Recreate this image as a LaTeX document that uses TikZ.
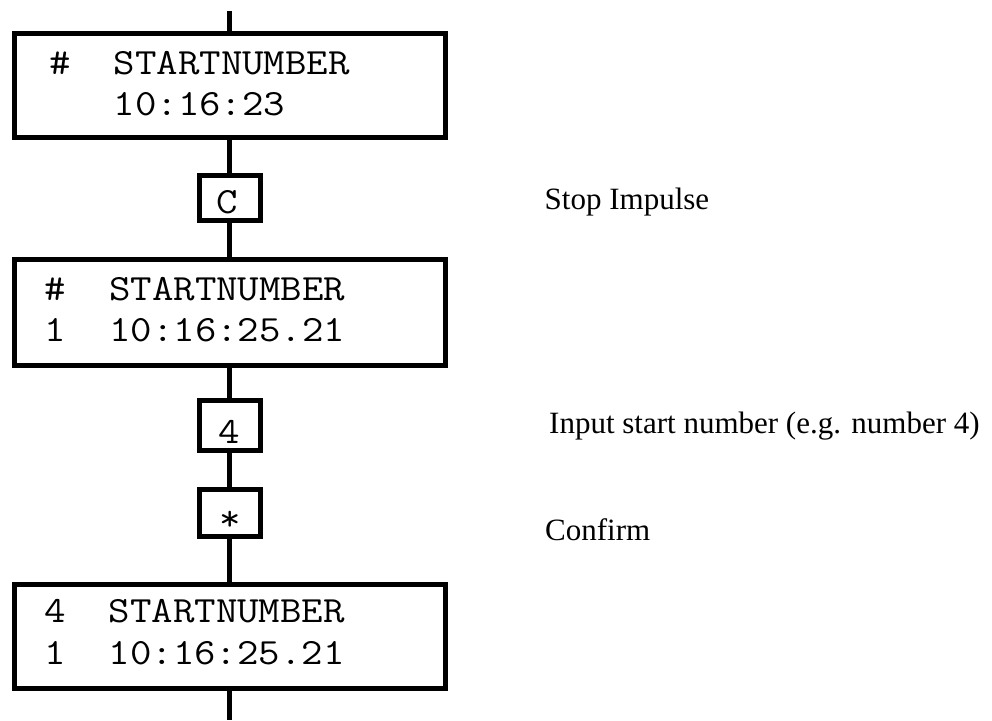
\documentclass[tikz,border=0pt]{standalone}
\usepackage{fontspec}
\setmainfont{Liberation Serif}
% typewriter lettering of the display, widened to a Courier-like pitch
\newcommand\lcdfont{\fontsize{37}{44}\selectfont\ttfamily}
\newcommand\lcdrow[1]{\scalebox{1.127}[1]{#1}}
\begin{document}
\begin{tikzpicture}[x=1pt,y=-1pt,
  wire/.style={line width=5pt},
  display/.style={draw, line width=5pt, minimum width=431pt, inner sep=0pt},
  keybox/.style={draw, line width=5pt, minimum width=61pt, inner sep=0pt},
  lcd/.style={anchor=base west, inner sep=0pt, font=\lcdfont},
  keyglyph/.style={anchor=base, inner sep=0pt, font=\lcdfont},
  note/.style={anchor=base west, inner sep=0pt, font=\fontsize{31}{37}\selectfont}]
\useasboundingbox (0,0) rectangle (992,720);

% display states
\node[display, minimum height=104pt] (d1) at (229.5,85.5) {};
\node[display, minimum height=106pt] (d2) at (229.5,312.5) {};
\node[display, minimum height=104pt] (d3) at (229.5,636.5) {};

% key presses
\node[keybox, minimum height=45pt] (kC) at (229.5,197.5) {};
\node[keybox, minimum height=50pt] (k4) at (229.5,425) {};
\node[keybox, minimum height=47pt] (kS) at (229.5,512.5) {};

% display contents
\node[lcd] (d1a) at (49,74)  {\lcdrow{\#\ \ STARTNUMBER}};
\node[lcd] (d1b) at (49,115) {\lcdrow{\ \ \ 10:16:23}};
\node[lcd] (d2a) at (44.5,300) {\lcdrow{\#\ \ STARTNUMBER}};
\node[lcd] (d2b) at (44.5,341) {\lcdrow{1\ \ 10:16:25.21}};
\node[lcd] (d3a) at (44,622) {\lcdrow{4\ \ STARTNUMBER}};
\node[lcd] (d3b) at (44,664) {\lcdrow{1\ \ 10:16:25.21}};

% key glyphs
\node[keyglyph] (tC) at (227,213) {\lcdrow{C}};
\node[keyglyph] (t4) at (229.5,443) {\lcdrow{4}};
\node[keyglyph, anchor=center] (tS) at (230,521) {\lcdrow{*}};

% flow line
\coordinate (top) at (229.5,11);
\coordinate (bottom) at (229.5,720);
\draw[wire] (top) -- (d1.north);
\draw[wire] (d1.south) -- (kC.north);
\draw[wire] (kC.south) -- (d2.north);
\draw[wire] (d2.south) -- (k4.north);
\draw[wire] (k4.south) -- (kS.north);
\draw[wire] (kS.south) -- (d3.north);
\draw[wire] (d3.south) -- (bottom);

% explanations
\node[note] (nC) at (544.5,209) {Stop Impulse};
\node[note] (n4) at (549,433) {Input start number (e.g. number 4)};
\node[note] (nS) at (545,540) {Confirm};
\end{tikzpicture}
\end{document}
